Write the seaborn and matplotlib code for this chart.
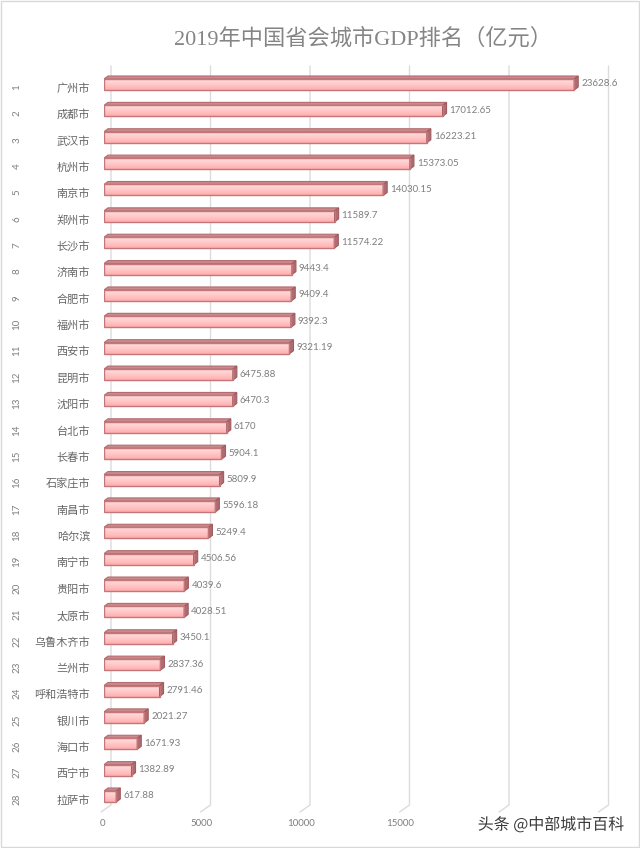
import numpy as np
import pandas as pd
import matplotlib
matplotlib.use("Agg")
import matplotlib.pyplot as plt
import matplotlib.patheffects as pe
from matplotlib.colors import LinearSegmentedColormap
from matplotlib.patches import Polygon, Rectangle
from matplotlib.transforms import ScaledTranslation
import seaborn as sns

cities = ["广州市", "成都市", "武汉市", "杭州市", "南京市", "郑州市", "长沙市", "济南市", "合肥市", "福州市",
          "西安市", "昆明市", "沈阳市", "台北市", "长春市", "石家庄市", "南昌市", "哈尔滨", "南宁市", "贵阳市",
          "太原市", "乌鲁木齐市", "兰州市", "呼和浩特市", "银川市", "海口市", "西宁市", "拉萨市"]
gdp = [23628.6, 17012.65, 16223.21, 15373.05, 14030.15, 11589.7, 11574.22, 9443.4, 9409.4, 9392.3,
       9321.19, 6475.88, 6470.3, 6170, 5904.1, 5809.9, 5596.18, 5249.4, 4506.56, 4039.6,
       4028.51, 3450.1, 2837.36, 2791.46, 2021.27, 1671.93, 1382.89, 617.88]
ranks = list(range(1, 29))
x_ticks = [0, 5000, 10000, 15000, 20000, 25000]
x_labels = ["0", "5000", "10000", "15000", "", ""]   # the last two are covered by the watermark
title = "2019年中国省会城市GDP排名（亿元）"
watermark = "头条 @中部城市百科"

sns.set_theme(style="white")
CJK = ["Noto Sans CJK SC", "DejaVu Sans"]
LATIN = ["Lato", "DejaVu Sans"]
plt.rcParams["font.family"] = CJK

W, H = 640, 848
fig = plt.figure(figsize=(W / 100, H / 100), dpi=100)
L, R, T, B = 104, 622, 66, 812
ax = fig.add_axes([L / W, 1 - B / H, (R - L) / W, (B - T) / H])

PX = 0.01990            # pixels per unit of GDP
ROW = 26.37             # pixels per category
CY0 = 84.5
DEPTH_X, DEPTH_Y = 4, 3

df = pd.DataFrame({"city": cities, "gdp": gdp})
sns.barplot(data=df, x="gdp", y="city", orient="h", ax=ax, width=11 / ROW,
            color="#ffc0c0", saturation=1, edgecolor="#c4767a", linewidth=1.0, zorder=3)

ax.set_xlim(0, (R - L) / PX)
ax.set_ylim((B - CY0) / ROW, (T - CY0) / ROW)
ux = 1 / PX             # data per pixel, x
uy = 1 / ROW            # data per pixel, y

# back-wall gridlines with a slanted floor segment
for v in x_ticks:
    ax.plot([v + 7 * ux, v + 7 * ux, v - 3 * ux],
            [(T - CY0) * uy, (805 - CY0) * uy, (812 - CY0) * uy],
            color="#dcdcdc", lw=1.0, zorder=1, clip_on=False, solid_joinstyle="miter")

# 3D faces and gradients on the front face
cmap = LinearSegmentedColormap.from_list("bar", ["#ffdcdc", "#ffd0d0", "#ffc0c0", "#ffacac"])
grad = np.linspace(0, 1, 32).reshape(-1, 1)
for bar in ax.patches:
    x0, w = bar.get_x(), bar.get_width()
    y0, h = bar.get_y(), bar.get_height()
    x1, y1 = x0 + w, y0 + h
    dx, dy = DEPTH_X * ux, DEPTH_Y * uy
    ax.add_patch(Polygon([(x0, y0), (x0 + dx, y0 - dy), (x1 + dx, y0 - dy), (x1, y0)],
                         closed=True, fc="#c98a8c", ec="#b56c70", lw=0.8, zorder=3.2))
    ax.add_patch(Polygon([(x1, y0), (x1 + dx, y0 - dy), (x1 + dx, y1 - dy), (x1, y1)],
                         closed=True, fc="#ad6c70", ec="#a05c60", lw=0.8, zorder=3.2))
    im = ax.imshow(grad, extent=(x0, x1, y1, y0), aspect="auto", cmap=cmap,
                   origin="upper", zorder=3.1, interpolation="bilinear")
    im.set_clip_path(bar)
    bar.set_facecolor("none")
    bar.set_zorder(3.3)

ax.set_xlim(0, (R - L) / PX)
ax.set_ylim((B - CY0) / ROW, (T - CY0) / ROW)

for v, y in zip(gdp, range(len(gdp))):
    ax.annotate(f"{v:.10g}", xy=(v, y), xytext=(7, 0.5), textcoords="offset pixels",
                ha="left", va="center", fontsize=7, color="#7f7f7f", family=LATIN,
                annotation_clip=False, zorder=5)

for r, y in zip(ranks, range(len(ranks))):
    ax.annotate(str(r), xy=(0, y), xytext=(17 - L, -2.5), textcoords="offset pixels",
                ha="center", va="center", rotation=90, fontsize=7, color="#7f7f7f",
                family=LATIN, annotation_clip=False)

ax.set_xlabel("")
ax.set_ylabel("")
ax.set_xticks(x_ticks)
ax.set_xticklabels(x_labels, fontsize=7, color="#7f7f7f", family=LATIN)
ax.set_yticks(range(len(cities)))
ax.set_yticklabels(cities, fontsize=8, color="#666666")
ax.tick_params(axis="x", length=0, pad=5)
ax.tick_params(axis="y", length=0, pad=10)
for s in ax.spines.values():
    s.set_visible(False)
ax.patch.set_alpha(0)

shift_x = ScaledTranslation(-2 / 100, 0, fig.dpi_scale_trans)
for lab in ax.get_xticklabels():
    lab.set_transform(lab.get_transform() + shift_x)
shift_y = ScaledTranslation(0, -3 / 100, fig.dpi_scale_trans)
for lab in ax.get_yticklabels():
    lab.set_transform(lab.get_transform() + shift_y)

fig.text(363 / W, 1 - 39 / H, title, ha="center", va="center", fontsize=16, color="#858585",
         family=["Liberation Serif", "Noto Sans CJK SC"])
fig.text(551 / W, 1 - 825 / H, watermark, ha="center", va="center", fontsize=11.5, color="#3a3a3a",
         zorder=10, bbox=dict(fc="white", ec="none", pad=2),
         path_effects=[pe.withStroke(linewidth=1.5, foreground="white")])

fig.add_artist(Rectangle((0.5 / W, 1 - 846.5 / H), 638 / W, 846 / H, transform=fig.transFigure,
                         fill=False, ec="#d9d9d9", lw=1.0))

fig.savefig("out.png", dpi=100)
